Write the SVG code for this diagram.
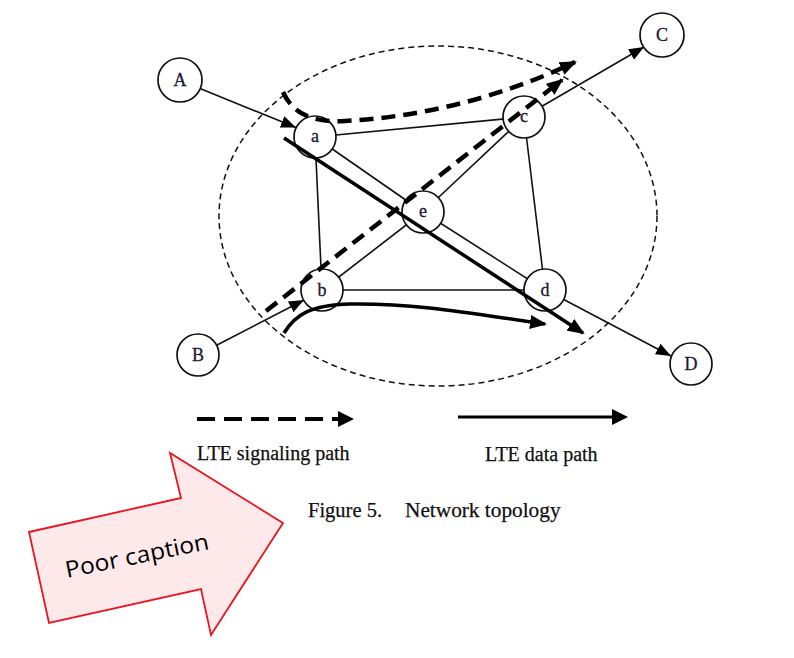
<svg xmlns="http://www.w3.org/2000/svg" width="794" height="658" viewBox="0 0 794 658">
<style>
.edge{stroke:#111;stroke-width:1.6;fill:none}
.node circle{fill:#fff;stroke:#111;stroke-width:1.7}
.node text{font-family:"Liberation Serif","Times New Roman",serif;font-size:18px;fill:#1a1a2e;stroke:#1a1a2e;stroke-width:0.3;text-anchor:middle}
.sig{stroke:#000;stroke-width:4.5;stroke-dasharray:14 8;fill:none}
.data{stroke:#000;stroke-width:3.5;fill:none}
.lbl{font-family:"Liberation Serif","Times New Roman",serif;font-size:20px;fill:#111;stroke:#111;stroke-width:0.25}
</style>
<defs>
<marker id="ah" markerUnits="userSpaceOnUse" markerWidth="15" markerHeight="12" refX="15" refY="6" orient="auto">
<path d="M0,0 L15,6 L0,12 z" fill="#000"/>
</marker>
<marker id="ahb" markerUnits="userSpaceOnUse" markerWidth="17" markerHeight="14" refX="15" refY="7" orient="auto">
<path d="M0,0 L17,7 L0,14 z" fill="#000"/>
</marker>
</defs>
<rect width="794" height="658" fill="#fff"/>
<ellipse cx="438" cy="216" rx="219" ry="170" fill="none" stroke="#111" stroke-width="1.5" stroke-dasharray="6 4"/>
<g id="connectors">
<line class="edge" x1="315" y1="137" x2="524" y2="117"/>
<line class="edge" x1="315" y1="137" x2="423" y2="212"/>
<line class="edge" x1="315" y1="137" x2="322" y2="290"/>
<line class="edge" x1="423" y1="212" x2="524" y2="117"/>
<line class="edge" x1="423" y1="212" x2="322" y2="290"/>
<line class="edge" x1="423" y1="212" x2="545" y2="290"/>
<line class="edge" x1="322" y1="290" x2="545" y2="290"/>
<line class="edge" x1="524" y1="117" x2="545" y2="290"/>
<line class="edge" x1="200" y1="88.6" x2="296" y2="127.5" marker-end="url(#ah)"/>
<line class="edge" x1="216.6" y1="345.3" x2="304" y2="300" marker-end="url(#ah)"/>
<line class="edge" x1="542" y1="106.3" x2="644" y2="47" marker-end="url(#ah)"/>
<line class="edge" x1="563.7" y1="299.5" x2="671" y2="356" marker-end="url(#ah)"/>
</g>
<g id="node-A" class="node"><circle cx="180" cy="80" r="22"/><text x="180" y="86">A</text></g>
<g id="node-B" class="node"><circle cx="198" cy="355" r="21"/><text x="198" y="361">B</text></g>
<g id="node-C" class="node"><circle cx="662" cy="35" r="22"/><text x="662" y="41">C</text></g>
<g id="node-D" class="node"><circle cx="691" cy="364" r="21"/><text x="691" y="370">D</text></g>
<g id="node-a" class="node"><circle cx="315" cy="137" r="21"/><text x="315" y="142">a</text></g>
<g id="node-b" class="node"><circle cx="322" cy="290" r="21"/><text x="322" y="296">b</text></g>
<g id="node-c" class="node"><circle cx="524" cy="117" r="21"/><text x="524" y="122">c</text></g>
<g id="node-d" class="node"><circle cx="545" cy="290" r="21"/><text x="545" y="296">d</text></g>
<g id="node-e" class="node"><circle cx="423" cy="212" r="21"/><text x="423" y="217">e</text></g>
<g id="paths">
<path class="sig" d="M283,92 C292,112 310,123 345,121 C420,117 500,98 575,62" marker-end="url(#ahb)"/>
<line class="sig" x1="266" y1="311" x2="562" y2="80" marker-end="url(#ahb)"/>
<line class="data" x1="284" y1="138" x2="583" y2="333" marker-end="url(#ahb)"/>
<path class="data" d="M284,333 C295,315 310,305 350,304 C420,303 480,315 545,324" marker-end="url(#ahb)"/>
</g>
<g id="legend">
<line x1="197" y1="419" x2="340" y2="419" stroke="#000" stroke-width="4" stroke-dasharray="18 9"/>
<path d="M338,411 L354,419 L338,427 z" fill="#000"/>
<line x1="458" y1="417" x2="614" y2="417" stroke="#000" stroke-width="3"/>
<path d="M612,409 L628,417 L612,425 z" fill="#000"/>
<text class="lbl" x="197" y="460">LTE signaling path</text>
<text class="lbl" x="485" y="461">LTE data path</text>
<text class="lbl" x="308" y="517" style="font-size:20.5px">Figure 5.</text>
<text class="lbl" x="405" y="517" style="font-size:21.3px">Network topology</text>
</g>
<g id="poor-caption">
<polygon points="29,532 181,498 170,453 283,523 211,635 201,589 49,623" fill="#fde8ea" stroke="#e8141e" stroke-width="1.8" stroke-linejoin="miter"/>
<text x="67" y="578" transform="rotate(-11.5 67 578)" font-family="'Open Sans','Noto Sans',sans-serif" font-size="23" fill="#000" textLength="146" lengthAdjust="spacingAndGlyphs">Poor caption</text>
</g>
</svg>
